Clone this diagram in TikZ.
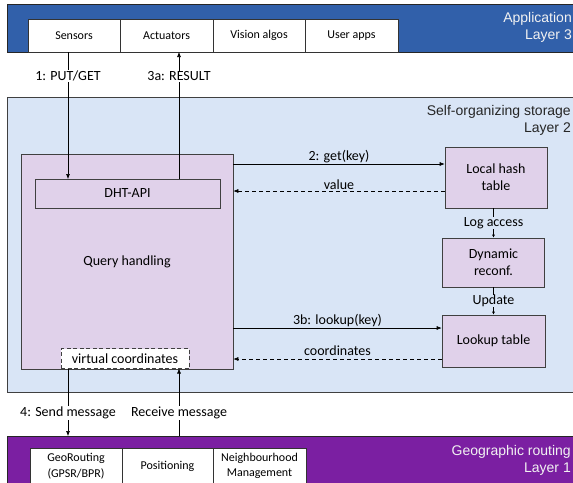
\documentclass[tikz,border=0pt]{standalone}
\usepackage{fontspec}
\setmainfont{Carlito}
\newfontfamily\arialf{Liberation Sans}
\usetikzlibrary{arrows.meta}
\definecolor{appblue}{HTML}{3160AA}
\definecolor{storebg}{HTML}{D9E5F6}
\definecolor{lilac}{HTML}{E0D1EA}
\definecolor{geopurple}{HTML}{7B1FA2}
\definecolor{edgegray}{HTML}{404040}
\definecolor{titlecol}{HTML}{F2F2F2}
\tikzset{
  x=1pt, y=-1pt,
  layerbar/.style={draw=black!85, line width=0.9pt, anchor=north west, inner sep=0},
  barbox/.style={draw=black!80, fill=white, line width=0.6pt, minimum height=33, font=\fontsize{12}{15.5}\selectfont, align=center, inner sep=0},
  procbox/.style={draw=edgegray, fill=lilac, line width=0.6pt, font=\fontsize{14}{17}\selectfont, align=center, inner sep=0},
  layertitle/.style={font=\arialf\fontsize{14}{17}\selectfont, text=titlecol, align=right, anchor=east, inner sep=0},
  lbl/.style={font=\fontsize{14}{16}\selectfont, inner sep=1pt},
  arr/.style={line width=0.6pt, -{Latex[length=5pt,width=4pt]}},
  darr/.style={arr, dashed, dash pattern=on 4pt off 3pt},
  smallarr/.style={line width=0.6pt, -{Latex[length=3pt,width=3pt]}}
}
\begin{document}
\begin{tikzpicture}
\useasboundingbox (0,0) rectangle (573,482);
\clip (0,0) rectangle (573,482);
\fill[white] (0,0) rectangle (573,482);
% Layer 3
\node[layerbar, fill=appblue, minimum width=590, minimum height=48] (topbar) at (7,4) {};
\node[barbox, minimum width=92] (sens) at (74,35.5) {Sensors};
\node[barbox, minimum width=93] (act) at (166.5,35.5) {Actuators};
\node[barbox, minimum width=92] (vis) at (259,35.5) {Vision algos};
\node[barbox, minimum width=93] (usr) at (351.5,35.5) {User apps};
\node[layertitle] (t3) at (572,27) {Application\\Layer 3};
% Layer 2
\node[layerbar, draw=edgegray, fill=storebg, minimum width=590, minimum height=295] (l2) at (7,97) {};
\node[layertitle, text=black!85] (t2) at (571,120) {Self-organizing storage\\Layer 2};
\node[procbox, minimum width=212, minimum height=215] (qh) at (127,261.5) {Query handling};
\node[procbox, minimum width=185, minimum height=29] (dht) at (127.5,193.5) {DHT-API};
\node[draw=edgegray, fill=white, dashed, dash pattern=on 4pt off 2.5pt, line width=0.6pt, minimum width=128, minimum height=20, inner sep=0, font=\fontsize{14}{16}\selectfont] (vc) at (125,358.5) {virtual coordinates};
\node[procbox, minimum width=102, minimum height=61] (lht) at (496,177.5) {Local hash\\table};
\node[procbox, minimum width=102, minimum height=49] (dyn) at (493.5,262.5) {Dynamic\\reconf.};
\node[procbox, minimum width=103, minimum height=52] (lkp) at (493.5,341) {Lookup table};
% Layer 1
\node[layerbar, fill=geopurple, minimum width=590, minimum height=60] (l1) at (7,436) {};
\node[barbox, minimum width=92, minimum height=36] (geo) at (76,466) {GeoRouting\\(GPSR/BPR)};
\node[barbox, minimum width=91, minimum height=36] (pos) at (167.5,466) {Positioning};
\node[barbox, minimum width=93, minimum height=36] (nbr) at (259.5,466) {Neighbourhood\\Management};
\node[layertitle] (t1) at (571,460) {Geographic routing\\Layer 1};
% coordinates for connectors
\coordinate (a1s) at (68,52);
\coordinate (a1e) at (68,179);
\coordinate (a3s) at (179,179);
\coordinate (a3e) at (179,52);
\coordinate (a4s) at (68,369);
\coordinate (a4e) at (68,436);
\coordinate (ars) at (179,436);
\coordinate (are) at (179,368.5);
% Layer 3 <-> Layer 2
\draw[arr] (a1s) -- node[lbl, fill=white, pos=0.19] {1: PUT/GET} (a1e);
\draw[arr] (a3s) -- node[lbl, fill=white, pos=0.81] {3a: RESULT} (a3e);
% internal
\draw[arr] (qh.east |- 0,164) -- node[lbl, above=0pt] {2: get(key)} (lht.west |- 0,164);
\draw[darr] (lht.west |- 0,191) -- node[lbl, above=0pt] {value} (qh.east |- 0,191);
\draw[arr] (qh.east |- 0,328) -- node[lbl, above=0pt] {3b: lookup(key)} (lkp.west |- 0,328);
\draw[darr] (lkp.west |- 0,359) -- node[lbl, above=2pt] {coordinates} (qh.east |- 0,359);
\draw[smallarr] (lht.south -| dyn.north) -- node[lbl, fill=storebg, inner sep=0.5pt] {Log access} (dyn.north);
\draw[smallarr] (dyn.south) -- node[lbl, fill=storebg, inner sep=0.5pt] {Update} (lkp.north -| dyn.south);
% Layer 2 <-> Layer 1
\draw[arr] (a4s) -- node[lbl, fill=white, pos=0.66] {4: Send message} (a4e);
\draw[arr] (ars) -- node[lbl, fill=white, pos=0.34] {Receive message} (are);
\end{tikzpicture}
\end{document}
